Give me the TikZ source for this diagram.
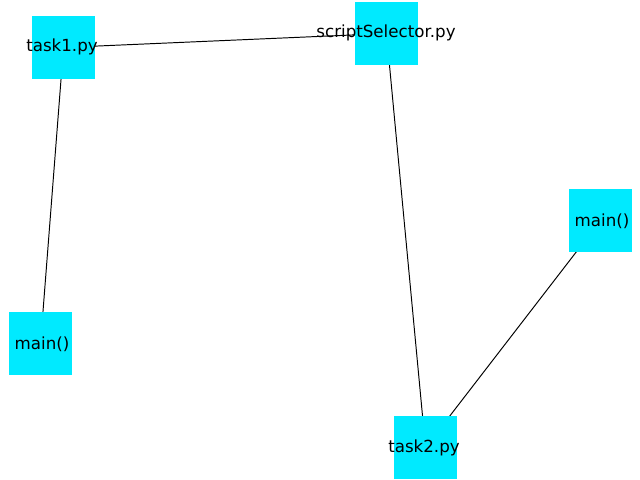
\documentclass[tikz,border=0pt]{standalone}
\usepackage{fontspec}
\setmainfont{DejaVu Sans}
\definecolor{nodecyan}{HTML}{00EAFF}
\begin{document}
\begin{tikzpicture}[x=0.01in,y=-0.01in,
  sq/.style={fill=nodecyan,draw=none,minimum width=0.63in,minimum height=0.63in,inner sep=0pt,outer sep=0pt},
  lab/.style={font=\fontsize{12bp}{14bp}\selectfont,inner sep=0pt},
  edge/.style={draw=black,line width=0.7pt}]
\useasboundingbox (0,0) rectangle (640,480);
\coordinate (c1) at (63.5,47.5);
\coordinate (c2) at (386.5,33.5);
\coordinate (c3) at (40.5,343.5);
\coordinate (c4) at (600.5,220.5);
\coordinate (c5) at (425.5,447.5);
\draw[edge] (c1) -- (c2);
\draw[edge] (c1) -- (c3);
\draw[edge] (c2) -- (c5);
\draw[edge] (c5) -- (c4);
\node[sq] (task1) at (c1) {};
\node[sq] (sel) at (c2) {};
\node[sq] (mainl) at (c3) {};
\node[sq] (mainr) at (c4) {};
\node[sq] (task2) at (c5) {};
\node[lab] (t1) at (62,47) {task1.py};
\node[lab] (t2) at (386,33) {scriptSelector.py};
\node[lab] (t3) at (42,344) {main()};
\node[lab] (t4) at (602,221) {main()};
\node[lab] (t5) at (424,448) {task2.py};
\end{tikzpicture}
\end{document}
